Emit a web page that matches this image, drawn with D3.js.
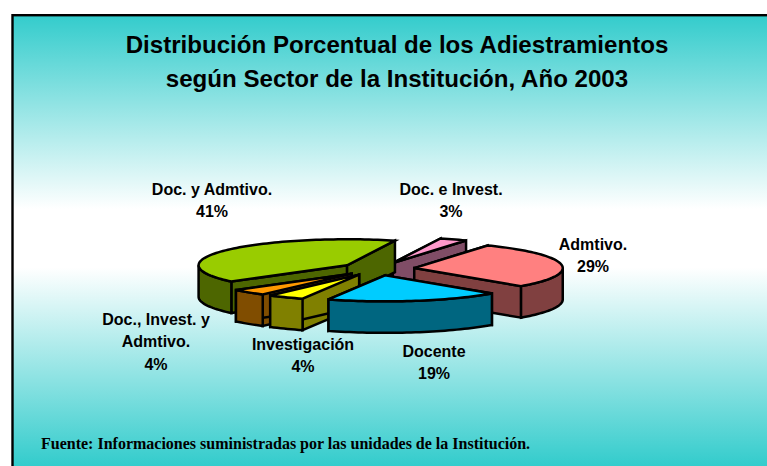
<!DOCTYPE html>
<html><head><meta charset="utf-8">
<script src="https://cdn.jsdelivr.net/npm/d3@7/dist/d3.min.js"></script>
<style>html,body{margin:0;padding:0;background:#fff}svg{display:block}</style></head>
<body><svg id="c" width="767" height="466"></svg>
<script>
const titleLines = ["Distribución Porcentual de los Adiestramientos","según Sector de la Institución, Año 2003"];
const categories = ["Doc. e Invest.","Admtivo.","Docente","Investigación","Doc., Invest. y Admtivo.","Doc. y Admtivo."];
const values = [3,29,19,4,4,41];
const topColors = ["#FF99CC","#FF8080","#00CCFF","#FFFF00","#FF9900","#99CC00"];
const sideColors = ["#804D66","#804040","#006680","#808000","#804D00","#4D6600"];
const drawOrder = [0,5,1,4,3,2];
const labelLines = [["Doc. e Invest.","3%"],["Admtivo.","29%"],["Docente","19%"],["Investigación","4%"],["Doc., Invest. y","Admtivo.","4%"],["Doc. y Admtivo.","41%"]];
const labelPos = [[451,195],[593,250],[434,357],[303,350],[156,325],[212,195]];
const source = "Fuente: Informaciones suministradas por las unidades de la Institución.";

const svg = d3.select("#c");
const defs = svg.append("defs");
const g = defs.append("linearGradient").attr("id","bg").attr("gradientUnits","userSpaceOnUse").attr("x1",0).attr("y1",15).attr("x2",0).attr("y2",466);
[[0,"#33CCCC"],[0.43,"#FFFFFF"],[0.56,"#FFFFFF"],[1,"#33CCCC"]].forEach(s=>g.append("stop").attr("offset",s[0]).attr("stop-color",s[1]));
svg.append("rect").attr("x",12.5).attr("y",15.2).attr("width",780).attr("height",470).attr("fill","url(#bg)").attr("stroke","#000").attr("stroke-width",2.4);

const cx=377.5, cy=269, rx=148.5, ry=26, depth=31.5, explode=0.25;
const pie = d3.pie().sort(null).value(d=>d).startAngle(18.8*Math.PI/180).endAngle((18.8+360)*Math.PI/180);
const arcs = pie(values);
const sx = d3.scaleLinear().domain([-1,1]).range([-rx,rx]);
const sy = d3.scaleLinear().domain([-1,1]).range([ry,-ry]);
const pt=(o,t,dy=0)=>[o[0]+sx(Math.sin(t)),o[1]+sy(Math.cos(t))+dy];
function rim(o,a0,a1,dy=0){const n=Math.max(2,Math.ceil((a1-a0)/0.03));return d3.range(n+1).map(i=>pt(o,a0+(a1-a0)*i/n,dy));}
const line=d3.line();
const chart=svg.append("g").attr("stroke","#000").attr("stroke-width",2.5).attr("stroke-linejoin","miter");
function poly(p,f){chart.append("path").attr("d",line(p)+"Z").attr("fill",f);}
drawOrder.forEach(i=>{
  const d=arcs[i], mid=(d.startAngle+d.endAngle)/2;
  const o=[cx+explode*sx(Math.sin(mid)),cy+explode*sy(Math.cos(mid))];
  const side=sideColors[i];
  const oB=[o[0],o[1]+depth];
  const a0=d.startAngle,a1=d.endAngle;
  const ps=pt(o,a0),pe=pt(o,a1);
  poly([o,ps,[ps[0],ps[1]+depth],oB],side);
  poly([o,pe,[pe[0],pe[1]+depth],oB],side);
  const lo=Math.max(a0,Math.PI/2),hi=Math.min(a1,Math.PI*1.5);
  if(hi>lo){poly(rim(o,lo,hi).concat(rim(o,lo,hi,depth).reverse()),side);}
  poly([o].concat(rim(o,a0,a1)),topColors[i]);
});
const text=svg.append("g").attr("fill","#000");
text.selectAll(".t").data(titleLines).join("text").attr("x",397).attr("y",(d,i)=>53+i*34)
 .attr("text-anchor","middle").attr("font-family","Liberation Sans").attr("font-weight","bold").attr("font-size",24.1).text(d=>d);
labelLines.forEach((ls,i)=>{
  text.append("g").selectAll("text").data(ls).join("text").attr("x",labelPos[i][0]).attr("y",(d,k)=>labelPos[i][1]+k*22.3)
   .attr("text-anchor","middle").attr("font-family","Liberation Sans").attr("font-weight","bold").attr("font-size",16).text(d=>d);
});
text.append("text").attr("x",41).attr("y",449).attr("font-family","Liberation Serif").attr("font-weight","bold").attr("font-size",16).text(source);
</script></body></html>
